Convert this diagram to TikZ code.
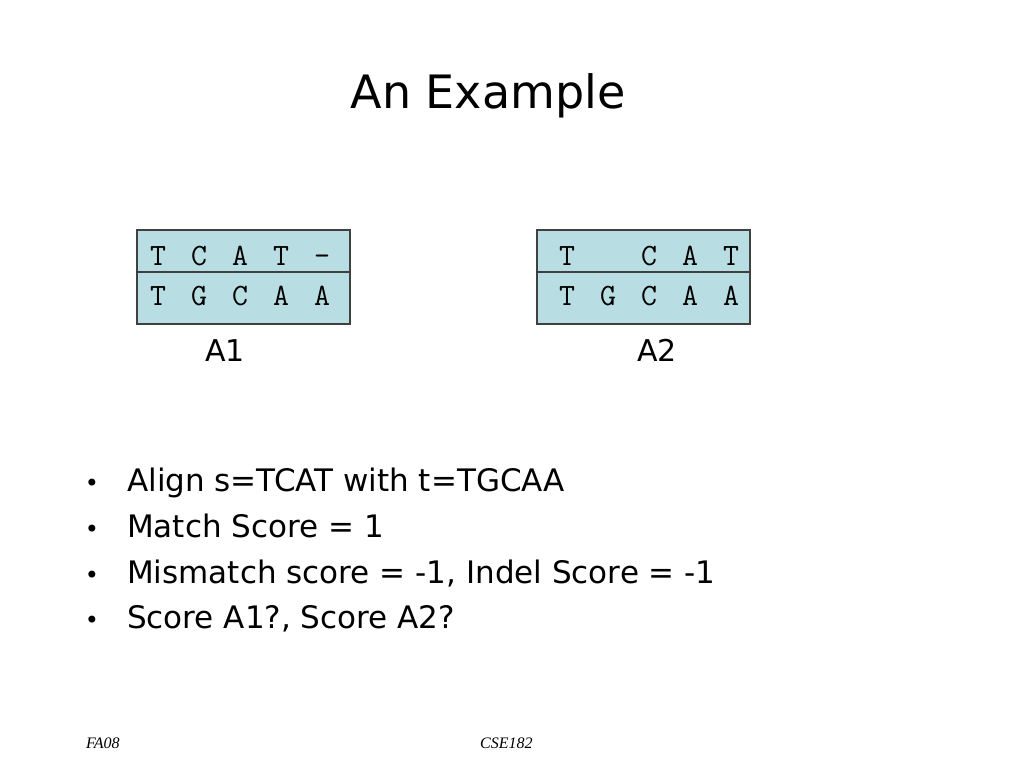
\documentclass[tikz,border=0pt]{standalone}
\usepackage{fontspec}
\setmainfont{DejaVu Sans}
\newfontfamily\footfont{Liberation Serif}
\usetikzlibrary{positioning}
\definecolor{cellfill}{RGB}{184,222,227}
\definecolor{cellline}{RGB}{64,64,64}

\begin{document}
\begin{tikzpicture}[x=1pt, y=-1pt]
\tikzset{cell/.style={rectangle, draw=cellline, fill=cellfill, line width=1.6pt, minimum width=213pt, inner sep=0pt}}
\tikzset{nuc/.style={anchor=base, inner sep=0pt, font=\ttfamily\fontsize{31}{31}\selectfont}}
\tikzset{label/.style={anchor=base, font=\fontsize{30}{30}\selectfont}}
\tikzset{item/.style={anchor=base west, inner sep=0pt, font=\fontsize{31}{31}\selectfont}}
\tikzset{foot/.style={anchor=base west, inner sep=0pt, font=\footfont\itshape\fontsize{16}{16}\selectfont}}

\useasboundingbox (0,0) rectangle (1024,768);

\newcommand{\alignrow}[4]{
\foreach \c [count=\i] in {#4} {
\node[nuc] (#3\i) at (#1+41*\i-41, #2) {\c};
}
}

\node[anchor=base, font=\fontsize{46}{46}\selectfont] (title) at (488,108) {An Example};

% alignment A1
\node[cell, minimum height=42pt] (topA) at (243.5,251) {};
\node[cell, minimum height=52pt] (botA) at (243.5,298) {};
\alignrow{158}{265}{sA}{T,C,A,T,-}
\alignrow{158}{305}{tA}{T,G,C,A,A}
\node[label] (labA) at (225,361) {A1};

% alignment A2
\node[cell, minimum height=42pt] (topB) at (643.5,251) {};
\node[cell, minimum height=52pt] (botB) at (643.5,298) {};
\alignrow{567}{265}{sB}{T,,C,A,T}
\alignrow{567}{305}{tB}{T,G,C,A,A}
\node[label] (labB) at (657,361) {A2};

\newcommand{\bullitem}[3]{
\node[anchor=base, inner sep=0pt, font=\fontsize{24}{24}\selectfont] (dot#1) at (92,#2) {\textbullet};
\node[item] (item#1) at (127,#2) {#3};
}
\bullitem{1}{491}{Align s=TCAT with t=TGCAA}
\bullitem{2}{537}{Match Score = 1}
\bullitem{3}{583}{Mismatch score = -1, Indel Score = -1}
\bullitem{4}{628}{Score A1?, Score A2?}

\node[foot] (term) at (86,748) {FA08};
\node[foot] (course) at (480,748) {CSE182};
\end{tikzpicture}
\end{document}
